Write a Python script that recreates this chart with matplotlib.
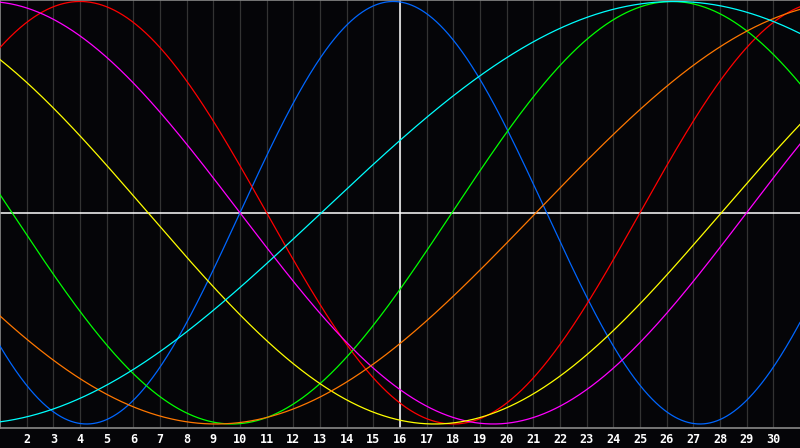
import numpy as np
import matplotlib
matplotlib.use("Agg")
import matplotlib.pyplot as plt

# Biorhythm cycles (period in days, day of peak within the month view)
names = ["Physical", "Emotional", "Intellectual", "Intuitive", "Aesthetic", "Awareness", "Spiritual"]
periods = [23, 28, 33, 38, 43, 48, 53]
peak_days = [15.75, 4.0, 26.2, 0.5, -4.2, 33.1, 26.3]
colors = ["#0066ff", "#ff0000", "#00ff00", "#ff00ff", "#ffff00", "#ff7700", "#00ffff"]

day_ticks = list(range(2, 31))
today = 16
first_day, last_day = 1, 31

W, H = 800, 448
fig = plt.figure(figsize=(W / 100, H / 100), dpi=100, facecolor="#050508")
ax = fig.add_axes([0, 20 / H, 1, 428 / H])
ax.set_facecolor("#050508")

for d in day_ticks:
    ax.axvline(d, color="#333333", lw=0.9, zorder=1)
ax.axvline(today, color="#ffffff", lw=1.1, zorder=2)
ax.axhline(0, color="#ffffff", lw=1.1, zorder=2)

t = np.linspace(first_day, last_day, 3000)
for P, pk, c, n in zip(periods, peak_days, colors, names):
    ax.plot(t, np.cos(2 * np.pi * (t - pk) / P), color=c, lw=0.9, zorder=3, label=n)

ax.set_xlim(first_day, last_day)
ax.set_ylim(-1.019, 1.007)
ax.set_yticks([])
ax.set_xticks(day_ticks)
ax.set_xticklabels([str(d) for d in day_ticks], color="white",
                   fontfamily="DejaVu Sans Mono", fontweight="bold", fontsize=8.5)
ax.tick_params(axis="x", length=0, pad=3.5)

for s in ["left", "top", "bottom"]:
    ax.spines[s].set_color("#888888")
    ax.spines[s].set_linewidth(1.2)
ax.spines["right"].set_visible(False)

fig.savefig("out.png", dpi=100, facecolor=fig.get_facecolor())
